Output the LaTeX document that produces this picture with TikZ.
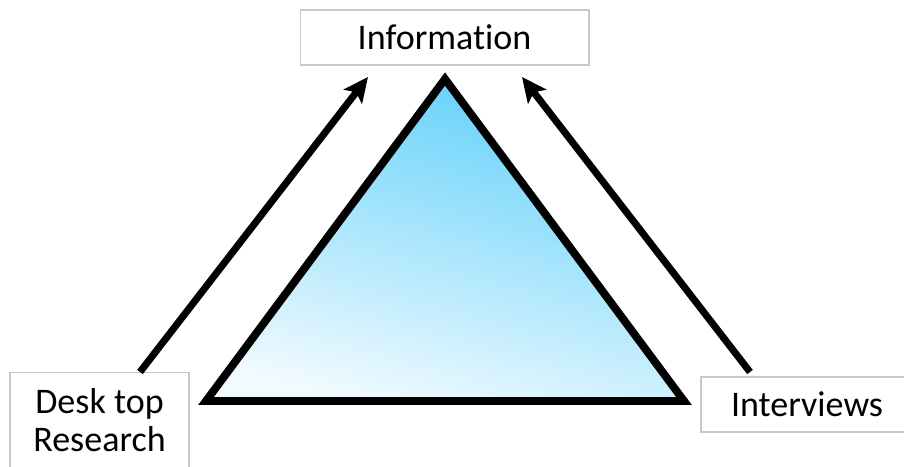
\documentclass[tikz,border=0pt]{standalone}
\usepackage{fontspec}
\setmainfont{Carlito}[Ligatures=NoCommon]
\usetikzlibrary{arrows.meta}
\definecolor{skyblue}{RGB}{96,208,250}
\definecolor{paleblue}{RGB}{240,250,255}
\definecolor{boxgray}{RGB}{200,200,200}
\tikzset{
  labelbox/.style={draw=boxgray, line width=0.6pt, inner sep=0pt, align=center,
    font=\fontsize{20.5}{22}\selectfont},
  feed/.style={line width=4pt, -{Stealth[length=14pt,width=13pt,inset=3pt]}}
}

\begin{document}
\begin{tikzpicture}[x=0.02cm,y=-0.02cm]
\useasboundingbox (0,0) rectangle (904,467);
% the three labels
\node[labelbox, minimum width=5.78cm, minimum height=1.1cm] (info) at (444.5,37.5) {Information};
\node[labelbox, anchor=north, minimum width=3.58cm, minimum height=1.9cm] (desk) at (99.5,372) {Desk top\\Research};
\node[labelbox, minimum width=4.24cm, minimum height=1.1cm] (interviews) at (807,404.5) {Interviews};
% triangle with blue fade
\coordinate (apex) at (445,79);
\coordinate (left) at (206,401);
\coordinate (right) at (684,401);
\draw[line width=4.5pt, top color=skyblue, bottom color=paleblue, shading angle=-15]
  (apex) -- (left) -- (right) -- cycle;
% arrows towards Information
\coordinate (desktail) at (140,372);
\coordinate (deskhead) at (368,77);
\coordinate (inttail) at (750,372);
\coordinate (inthead) at (522,77);
\draw[feed] (desktail) -- (deskhead);
\draw[feed] (inttail) -- (inthead);
\end{tikzpicture}
\end{document}
